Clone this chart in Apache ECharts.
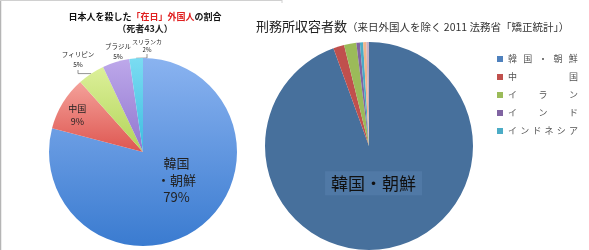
<!DOCTYPE html>
<html><head><meta charset="utf-8">
<script src="https://cdn.jsdelivr.net/npm/echarts@6/dist/echarts.min.js"></script>
<style>html,body{margin:0;padding:0;background:#fff}#c{width:589px;height:250px}</style>
</head><body><div id="c"></div>
<script>
// Left pie: 日本人を殺した「在日」外国人の割合（死者43人）
var leftNames = ['韓国・朝鮮', '中国', 'フィリピン', 'ブラジル', 'スリランカ'];
var leftLabelNames = ['韓国\n・朝鮮', '中国', 'フィリピン', 'ブラジル', 'スリランカ'];
var leftValues = [34, 4, 2, 2, 1];
// Right pie: 刑務所収容者数
var rightNames = ['韓国・朝鮮', '中国', 'イラン', 'インド', 'インドネシア', 'その他1', 'その他2'];
var rightValues = [94.3, 1.7, 1.9, 0.55, 0.5, 0.5, 0.4];
var legendNames = ['韓国・朝鮮', '中国', 'イラン', 'インド', 'インドネシア'];

var FONT = '"Noto Sans CJK JP", "Noto Sans", sans-serif';

function grad(c1, c2) {
  return new echarts.graphic.LinearGradient(0, 0, 0, 1, [{offset: 0, color: c1}, {offset: 1, color: c2}]);
}
var leftColors = [grad('#8ab3f0', '#3a7bd0'), grad('#f4a19a', '#de5650'), grad('#dcf09a', '#b2d458'),
                  grad('#bda8ea', '#9176cf'), grad('#7bdcf2', '#3dbddf')];
var rightColors = ['#47709c', '#c0504d', '#9bbb59', '#8064a2', '#4bacc6', '#f2b58c', '#c9b0c4'];
var legendColors = ['#4f81bd', '#c0504d', '#9bbb59', '#8064a2', '#4bacc6'];

var leftLabelCfg = [
  {position: 'inside', fontSize: 13, lineHeight: 17},
  {position: 'inside', fontSize: 9, lineHeight: 13},
  {position: 'outside', fontSize: 6.5, lineHeight: 10},
  {position: 'outside', fontSize: 6.5, lineHeight: 10},
  {position: 'outside', fontSize: 6, lineHeight: 8}
];
var leftData = leftNames.map(function (n, i) {
  return {
    name: n, value: leftValues[i],
    itemStyle: {color: leftColors[i]},
    label: Object.assign({show: true, color: '#222', fontFamily: FONT}, leftLabelCfg[i]),
    labelLine: {show: i === 2 || i === 4, length: 4, length2: 4, lineStyle: {color: '#777', width: 0.8}}
  };
});
var rightData = rightNames.map(function (n, i) {
  return {
    name: n, value: rightValues[i],
    itemStyle: {color: rightColors[i]},
    label: i === 0 ? {show: true, position: 'inside', fontSize: 17, color: '#111', fontFamily: FONT,
                     backgroundColor: '#5079a6', padding: [4, 6, 3, 6], formatter: '{b}'} : {show: false}
  };
});

var leftLabelShift = [[3, -12], [-23, -11]];
var leftLabelXY = {2: [78, 60], 3: [118, 52], 4: [147, 46]};

function spaced(name) {
  var ch = name.split('');
  var n = ch.length;
  return ch.map(function (c, i) { return i < n - 1 ? '{w' + n + '|' + c + '}' : '{z|' + c + '}'; }).join('');
}

var chart = echarts.init(document.getElementById('c'), null, {renderer: 'canvas'});
chart.setOption({
  animation: false,
  title: [
    {text: '日本人を殺した{r|「在日」外国人}の割合', left: 140, top: 7, textAlign: 'center',
     textStyle: {fontSize: 9, fontWeight: 'bold', color: '#111', fontFamily: FONT,
       rich: {r: {fontSize: 9, fontWeight: 'bold', color: '#e02020', fontFamily: FONT}}},
     subtext: '（死者43人）', itemGap: 3,
     subtextStyle: {fontSize: 9, fontWeight: 'bold', color: '#222', fontFamily: FONT}},
    {text: '{a|刑務所収容者数}{b|（来日外国人を除く 2011 法務省「矯正統計」）}', left: 251, top: 15,
     textStyle: {fontWeight: 'normal', rich: {a: {fontSize: 13, fontWeight: 'normal', color: '#222', fontFamily: FONT},
                        b: {fontSize: 10.5, fontWeight: 'normal', color: '#333', fontFamily: FONT, padding: [2, 0, 0, 0]}}}}
  ],
  legend: {
    data: legendNames.map(function (n, i) { return {name: n, itemStyle: {color: legendColors[i]}}; }),
    orient: 'vertical', left: 492, top: 49, icon: 'rect', itemWidth: 6, itemHeight: 6, itemGap: 8,
    selectedMode: false,
    formatter: spaced,
    textStyle: {fontSize: 9, lineHeight: 10, color: '#555', fontFamily: FONT,
      rich: {w2: {width: 61, fontSize: 9, color: '#555'}, w3: {width: 30.5, fontSize: 9, color: '#555'},
             w5: {width: 15.2, fontSize: 9, color: '#555'}, w6: {width: 12.2, fontSize: 9, color: '#555'},
             z: {fontSize: 9, color: '#555'}}}
  },
  graphic: [
    {type: 'line', shape: {x1: 0.5, y1: 0, x2: 0.5, y2: 250}, style: {stroke: '#b5b5b5', lineWidth: 1.5}},
    {type: 'line', shape: {x1: 0, y1: 0.5, x2: 282, y2: 0.5}, style: {stroke: '#d0d0d0', lineWidth: 1}},
    {type: 'line', shape: {x1: 282, y1: 0, x2: 282, y2: 3}, style: {stroke: '#d0d0d0', lineWidth: 1}}
  ],
  series: [
    {type: 'pie', center: [143, 152], radius: 94, startAngle: 90, clockwise: true,
     percentPrecision: 0, avoidLabelOverlap: false, silent: true,
     label: {formatter: function (p) { return leftLabelNames[p.dataIndex] + '\n' + p.percent + '%'; }},
     labelLayout: function (p) {
       var i = p.dataIndex;
       if (leftLabelShift[i]) return {dx: leftLabelShift[i][0], dy: leftLabelShift[i][1]};
       var xy = leftLabelXY[i];
       return {x: xy[0], y: xy[1], align: 'center', verticalAlign: 'middle'};
     },
     data: leftData},
    {type: 'pie', center: [369, 146], radius: 104, startAngle: 90, clockwise: true,
     avoidLabelOverlap: false, silent: true,
     labelLayout: function (p) { return p.dataIndex === 0 ? {dx: -5, dy: -17} : {}; },
     data: rightData}
  ]
});
</script></body></html>
